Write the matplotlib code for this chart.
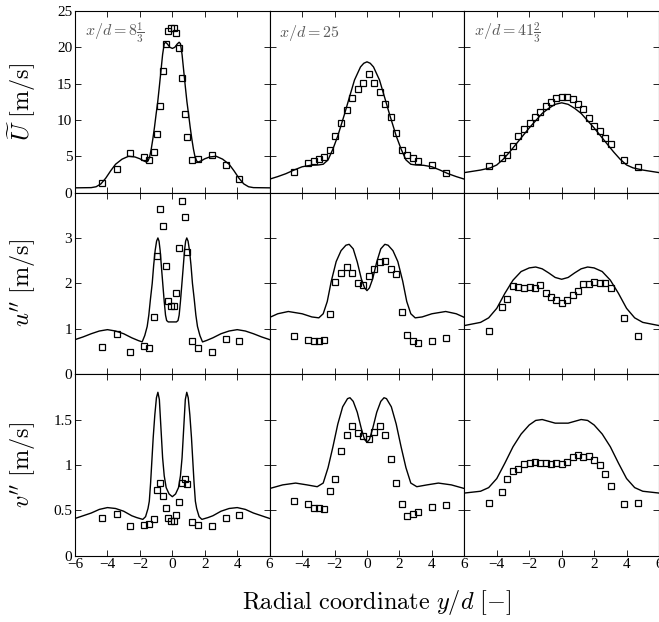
import matplotlib
matplotlib.use("Agg")
import matplotlib.pyplot as plt
from matplotlib.ticker import FormatStrFormatter

plt.rcParams["font.family"] = "serif"
plt.rcParams["font.serif"] = ["Liberation Serif", "DejaVu Serif"]
plt.rcParams["mathtext.fontset"] = "cm"

# axial stations and quantities
stations = [r"$x/d = 8\frac{1}{3}$", r"$x/d = 25$", r"$x/d = 41\frac{2}{3}$"]
row_labels = [r"$\widetilde{U}\ [\mathrm{m/s}]$", r"$u''\ [\mathrm{m/s}]$", r"$v''\ [\mathrm{m/s}]$"]
x_ticks = [-6, -4, -2, 0, 2, 4, 6]
y_ticks = [[0, 5, 10, 15, 20, 25], [0, 1, 2, 3], [0, 0.5, 1, 1.5]]
y_limits = [(0, 25), (0, 4), (0, 2)]

# measurement positions (y/d) per station
meas_x1 = [-4.31, -3.44, -2.61, -1.76, -1.45, -1.10, -0.95, -0.79, -0.58, -0.41, -0.25, -0.08,
           0.12, 0.25, 0.41, 0.60, 0.75, 0.91, 1.24, 1.59, 2.44, 3.29, 4.12]
meas_x2 = [-4.47, -3.63, -3.29, -2.95, -2.62, -2.27, -1.95, -1.60, -1.26, -0.92, -0.58, -0.23,
           0.10, 0.44, 0.80, 1.12, 1.47, 1.80, 2.15, 2.49, 2.83, 3.16, 4.00, 4.86]
meas_x3 = [-4.50, -3.68, -3.35, -3.00, -2.67, -2.33, -1.98, -1.65, -1.32, -0.99, -0.66, -0.33,
           0.00, 0.35, 0.68, 1.01, 1.34, 1.67, 2.02, 2.36, 2.69, 3.02, 3.86, 4.71]

# measured values
meas_U1 = [1.36, 3.3, 5.45, 4.86, 4.55, 5.6, 8.05, 11.9, 16.8, 20.45, 22.2, 22.7,
           22.6, 21.95, 19.9, 15.8, 10.8, 7.7, 4.55, 4.64, 5.2, 3.77, 1.8]
meas_U2 = [2.86, 4.05, 4.32, 4.64, 4.95, 5.86, 7.73, 9.64, 11.3, 13.05, 14.2, 15.05,
           16.3, 15.05, 13.8, 12.2, 10.36, 8.2, 5.86, 5.14, 4.73, 4.41, 3.73, 2.73]
meas_U3 = [3.64, 4.82, 5.23, 6.36, 7.73, 8.77, 9.55, 10.36, 11.14, 11.95, 12.5, 13.0,
           13.14, 13.09, 12.82, 12.14, 11.45, 10.32, 9.18, 8.45, 7.55, 6.68, 4.45, 3.55]
meas_u1 = [0.60, 0.89, 0.49, 0.61, 0.58, 1.26, 2.6, 3.64, 3.26, 2.38, 1.62, 1.49,
           1.51, 1.79, 2.78, 3.82, 3.47, 2.68, 0.72, 0.57, 0.49, 0.77, 0.74]
meas_u2 = [0.85, 0.76, 0.72, 0.72, 0.76, 1.32, 2.02, 2.23, 2.37, 2.23, 2.01, 1.96,
           2.17, 2.32, 2.47, 2.49, 2.32, 2.21, 1.36, 0.87, 0.72, 0.68, 0.72, 0.79]
meas_u3 = [0.96, 1.47, 1.66, 1.94, 1.93, 1.90, 1.93, 1.90, 1.96, 1.79, 1.71, 1.64,
           1.57, 1.64, 1.75, 1.83, 1.99, 1.99, 2.04, 2.01, 2.00, 1.89, 1.24, 0.83]
meas_v1 = [0.41, 0.46, 0.33, 0.34, 0.35, 0.40, 0.72, 0.80, 0.66, 0.52, 0.41, 0.38,
           0.38, 0.45, 0.59, 0.80, 0.84, 0.79, 0.37, 0.34, 0.33, 0.42, 0.45]
meas_v2 = [0.60, 0.57, 0.53, 0.53, 0.51, 0.71, 0.85, 1.15, 1.33, 1.43, 1.35, 1.32,
           1.29, 1.36, 1.43, 1.33, 1.06, 0.80, 0.57, 0.44, 0.46, 0.48, 0.54, 0.56]
meas_v3 = [0.585, 0.70, 0.85, 0.93, 0.96, 1.01, 1.02, 1.03, 1.02, 1.02, 1.01, 1.02,
           1.01, 1.03, 1.09, 1.11, 1.09, 1.10, 1.05, 1.00, 0.90, 0.77, 0.57, 0.585]

# model profiles
sim_U1_x = [-6, -5.0, -4.7, -4.4, -4.1, -3.8, -3.5, -3.1, -2.7, -2.3, -2.0, -1.8, -1.6, -1.5,
            -1.4, -1.3, -1.2, -1.1, -1.0, -0.9, -0.8, -0.7, -0.6, -0.5, -0.42, -0.3, -0.15, 0,
            0.15, 0.3, 0.42, 0.5, 0.6, 0.7, 0.8, 0.9, 1.0, 1.1, 1.2, 1.3, 1.4, 1.5, 1.6, 1.8,
            2.0, 2.3, 2.7, 3.1, 3.5, 3.8, 4.1, 4.4, 4.7, 5.0, 6]
sim_U1 = [0.65, 0.68, 0.8, 1.2, 2.0, 3.0, 3.9, 4.6, 5.0, 4.9, 4.65, 4.4, 4.2, 4.35,
          4.9, 6.0, 7.4, 9.0, 10.8, 12.5, 14.6, 16.8, 19.0, 20.5, 20.7, 20.45, 20.0, 19.85,
          20.0, 20.45, 20.7, 20.5, 19.0, 16.8, 14.6, 12.5, 10.8, 9.0, 7.4, 6.0, 4.9, 4.35, 4.2, 4.4,
          4.65, 4.9, 5.0, 4.6, 3.9, 3.0, 2.0, 1.2, 0.8, 0.68, 0.65]
sim_U2_x = [-6, -5.5, -5.0, -4.5, -4.0, -3.5, -3.0, -2.7, -2.4, -2.1, -1.8, -1.4, -1.1, -0.77,
            -0.4, -0.2, 0, 0.2, 0.4, 0.77, 1.1, 1.4, 1.8, 2.1, 2.4, 2.7, 3.0, 3.5, 4.0, 4.5,
            5.0, 5.5, 6]
sim_U2 = [1.85, 2.2, 2.6, 3.1, 3.55, 3.75, 3.8, 3.9, 4.5, 6.0, 7.8, 10.7, 13.0, 15.5,
          17.3, 17.8, 18.0, 17.8, 17.3, 15.5, 13.0, 10.7, 7.8, 6.0, 4.5, 3.9, 3.8, 3.75, 3.55, 3.1,
          2.6, 2.2, 1.85]
sim_U3_x = [-6, -5, -4.4, -4.0, -3.6, -3.2, -2.8, -2.4, -2.0, -1.6, -1.2, -0.8, -0.4, 0,
            0.4, 0.8, 1.2, 1.6, 2.0, 2.4, 2.8, 3.2, 3.6, 4.0, 4.4, 5, 6]
sim_U3 = [2.75, 3.1, 3.4, 3.8, 4.6, 5.6, 6.7, 7.8, 8.9, 9.9, 10.9, 11.6, 12.15, 12.36,
          12.15, 11.6, 10.9, 9.9, 8.9, 7.8, 6.7, 5.6, 4.6, 3.8, 3.4, 3.1, 2.75]

sim_u1_x = [-6, -5.5, -5, -4.5, -4, -3.5, -3, -2.5, -2.1, -1.86, -1.7, -1.55, -1.45, -1.35,
            -1.24, -1.15, -1.06, -0.97, -0.89, -0.82, -0.75, -0.67, -0.58, -0.5, -0.42, -0.35,
            -0.25, 0, 0.25, 0.35, 0.42, 0.5, 0.58, 0.67, 0.75, 0.82, 0.89, 0.97, 1.06, 1.15,
            1.24, 1.35, 1.45, 1.55, 1.7, 1.86, 2.1, 2.5, 3, 3.5, 4, 4.5, 5, 5.5, 6]
sim_u1 = [0.76, 0.82, 0.89, 0.95, 0.98, 0.95, 0.89, 0.8, 0.74, 0.71, 0.85, 1.05, 1.3, 1.65,
          2.0, 2.4, 2.72, 2.93, 3.0, 2.93, 2.72, 2.35, 1.95, 1.6, 1.3, 1.18,
          1.15, 1.15, 1.15, 1.18, 1.3, 1.6, 1.95, 2.35, 2.72, 2.93, 3.0, 2.93, 2.72, 2.4,
          2.0, 1.65, 1.3, 1.05, 0.85, 0.71, 0.74, 0.8, 0.89, 0.95, 0.98, 0.95, 0.89, 0.82, 0.76]
sim_u2_x = [-6, -5.5, -4.85, -4.0, -3.4, -2.97, -2.7, -2.45, -2.2, -1.9, -1.6, -1.3, -1.1,
            -0.85, -0.6, -0.35, -0.15, 0, 0.15, 0.35, 0.6, 0.85, 1.1, 1.3, 1.6, 1.9, 2.2,
            2.45, 2.7, 2.97, 3.4, 4.0, 4.85, 5.5, 6]
sim_u2 = [1.25, 1.33, 1.38, 1.33, 1.26, 1.24, 1.33, 1.6, 2.05, 2.48, 2.72, 2.84, 2.86,
          2.76, 2.47, 2.1, 1.9, 1.84, 1.9, 2.1, 2.47, 2.76, 2.86, 2.84, 2.72, 2.48, 2.05,
          1.6, 1.33, 1.24, 1.26, 1.33, 1.38, 1.33, 1.25]
sim_u3_x = [-6, -5, -4.5, -4, -3.5, -3, -2.5, -2, -1.6, -1.2, -0.8, -0.4, 0,
            0.4, 0.8, 1.2, 1.6, 2, 2.5, 3, 3.5, 4, 4.5, 5, 6]
sim_u3 = [1.07, 1.14, 1.24, 1.45, 1.78, 2.07, 2.26, 2.34, 2.36, 2.32, 2.23, 2.13, 2.09,
          2.13, 2.23, 2.32, 2.36, 2.34, 2.26, 2.07, 1.78, 1.45, 1.24, 1.14, 1.07]

sim_v1_x = [-6, -5, -4.5, -4, -3.5, -3, -2.5, -2.2, -1.82, -1.65, -1.5, -1.42, -1.34, -1.26,
            -1.18, -1.08, -0.98, -0.89, -0.8, -0.7, -0.6, -0.5, -0.38, -0.2, 0, 0.2, 0.38,
            0.5, 0.6, 0.7, 0.8, 0.89, 0.98, 1.08, 1.18, 1.26, 1.34, 1.42, 1.5, 1.65, 1.82,
            2.2, 2.5, 3, 3.5, 4, 4.5, 5, 6]
sim_v1 = [0.41, 0.47, 0.51, 0.53, 0.52, 0.49, 0.44, 0.42, 0.40, 0.43, 0.52, 0.6, 0.8, 1.05,
          1.3, 1.55, 1.74, 1.80, 1.72, 1.4, 1.08, 0.88, 0.75, 0.68, 0.65, 0.68, 0.75,
          0.88, 1.08, 1.4, 1.72, 1.80, 1.74, 1.55, 1.3, 1.05, 0.8, 0.6, 0.52, 0.43, 0.40,
          0.42, 0.44, 0.49, 0.52, 0.53, 0.51, 0.47, 0.41]
sim_v2_x = [-6, -5.2, -4.4, -3.7, -3.07, -2.7, -2.4, -2.1, -1.8, -1.5, -1.2, -1.05, -0.85,
            -0.6, -0.35, -0.15, 0, 0.15, 0.35, 0.6, 0.85, 1.05, 1.2, 1.5, 1.8, 2.1, 2.4,
            2.7, 3.07, 3.7, 4.4, 5.2, 6]
sim_v2 = [0.74, 0.78, 0.80, 0.78, 0.76, 0.8, 0.97, 1.2, 1.45, 1.64, 1.73, 1.74, 1.70,
          1.58, 1.4, 1.28, 1.25, 1.28, 1.4, 1.58, 1.70, 1.74, 1.73, 1.64, 1.45, 1.2, 0.97,
          0.8, 0.76, 0.78, 0.80, 0.78, 0.74]
sim_v3_x = [-6, -5, -4.5, -4, -3.5, -3, -2.5, -2, -1.6, -1.2, -0.8, -0.4, 0,
            0.4, 0.8, 1.2, 1.6, 2, 2.5, 3, 3.5, 4, 4.5, 5, 6]
sim_v3 = [0.69, 0.71, 0.75, 0.85, 1.02, 1.2, 1.34, 1.44, 1.49, 1.50, 1.48, 1.46, 1.46,
          1.46, 1.48, 1.50, 1.49, 1.44, 1.34, 1.2, 1.02, 0.85, 0.75, 0.71, 0.69]

meas_x = [meas_x1, meas_x2, meas_x3]
meas = [[meas_U1, meas_U2, meas_U3],
        [meas_u1, meas_u2, meas_u3],
        [meas_v1, meas_v2, meas_v3]]
sims = [[(sim_U1_x, sim_U1), (sim_U2_x, sim_U2), (sim_U3_x, sim_U3)],
        [(sim_u1_x, sim_u1), (sim_u2_x, sim_u2), (sim_u3_x, sim_u3)],
        [(sim_v1_x, sim_v1), (sim_v2_x, sim_v2), (sim_v3_x, sim_v3)]]

fig, axes = plt.subplots(3, 3, figsize=(6.59, 6.22), dpi=100, sharex=True, sharey="row")
fig.subplots_adjust(left=75 / 659, right=1.0, bottom=1 - 555.7 / 622, top=1 - 11 / 622,
                    wspace=0, hspace=0)

for r in range(3):
    for c in range(3):
        ax = axes[r, c]
        sx, sy = sims[r][c]
        ax.plot(sx, sy, color="black", lw=1.0)
        ax.plot(meas_x[c], meas[r][c], ls="none", marker="s", ms=4.5,
                mfc="none", mec="black", mew=0.9)
        ax.set_xlim(-6, 6)
        ax.set_ylim(*y_limits[r])
        ax.set_xticks(x_ticks)
        ax.set_yticks(y_ticks[r])
        ax.yaxis.set_major_formatter(FormatStrFormatter("%g"))
        ax.tick_params(direction="in", top=True, right=True, length=4, width=0.6,
                       labelsize=11, pad=2)
        for sp in ax.spines.values():
            sp.set_linewidth(0.8)
        if c == 0:
            ax.set_ylabel(row_labels[r], fontsize=17.5)
            ax.yaxis.set_label_coords(-0.19, 0.5)
        if r == 0:
            ax.text(0.05, 0.88, stations[c], transform=ax.transAxes, fontsize=11.5,
                    color="0.35", va="center", ha="left")

# neighbouring columns share the boundary label "6", so drop their "-6"
for c in (1, 2):
    axes[2, c].get_xticklabels()[0].set_visible(False)

fig.text(0.572, 0.032, r"$\mathrm{Radial\ coordinate}\ y/d\ [-]$", fontsize=17.5,
         ha="center", va="center")

fig.savefig("out.png", dpi=100)
